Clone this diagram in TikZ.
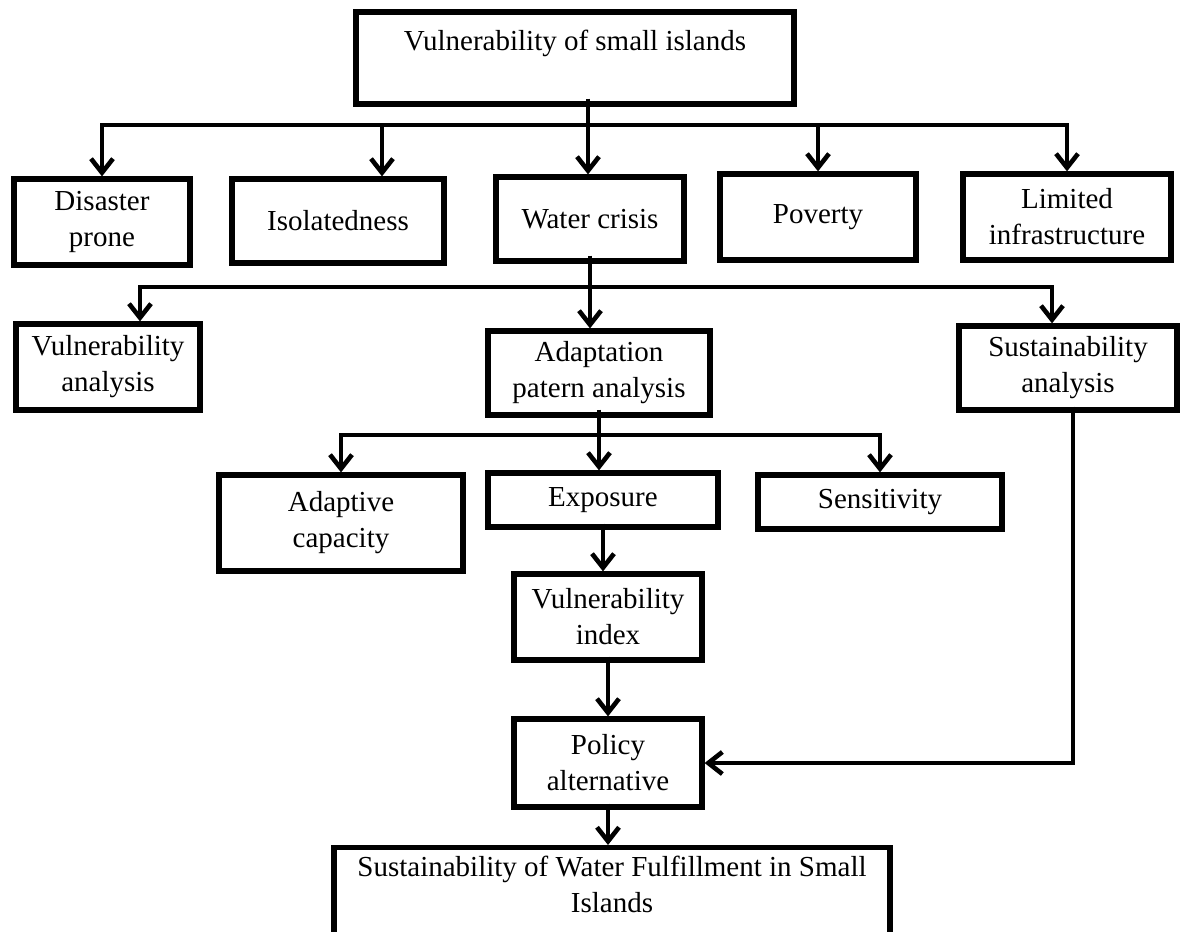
\documentclass[tikz,border=0pt]{standalone}
\usepackage{fontspec}
\setmainfont{Liberation Serif}
\usetikzlibrary{arrows.meta, shadows}

\begin{document}
\begin{tikzpicture}[x=0.5pt, y=-0.5pt,
  every node/.style={font=\fontsize{14.5pt}{18pt}\selectfont},
  box/.style={draw, line width=2.6pt, fill=white, align=center, inner sep=2pt,
    drop shadow={shadow xshift=1pt, shadow yshift=-1pt, fill=black!22, opacity=1}},
  link/.style={line width=2.3pt},
  flow/.style={link, -{Straight Barb[length=7pt, width=11pt]}}]
  \useasboundingbox (0,0) rectangle (1182,931);

  % Top box
  \node[box, minimum width=219pt, minimum height=46pt] (top) at (575,58)
    {Vulnerability of small islands\\~};

  % First row: aspects of vulnerability
  \node[box, minimum width=88pt, minimum height=43pt] (disaster) at (102,222) {Disaster\\prone};
  \node[box, minimum width=106pt, minimum height=42pt] (isol) at (338,221) {Isolatedness};
  \node[box, minimum width=94pt, minimum height=42pt] (water) at (590,219) {Water crisis};
  \node[box, minimum width=98pt, minimum height=43pt] (poverty) at (818,217) {Poverty};
  \node[box, minimum width=104pt, minimum height=43pt] (limited) at (1067,217) {Limited\\infrastructure};

  % Second row: analyses
  \node[box, minimum width=92pt, minimum height=43pt] (vulnA) at (108,367) {Vulnerability\\analysis};
  \node[box, minimum width=111pt, minimum height=42pt] (adapt) at (599,373) {Adaptation\\patern analysis};
  \node[box, minimum width=109pt, minimum height=42pt] (sustA) at (1068,368) {Sustainability\\analysis};

  % Third row: components
  \node[box, minimum width=122pt, minimum height=48pt] (adcap) at (341,523) {Adaptive\\capacity};
  \node[box, minimum width=115pt, minimum height=27pt] (expo) at (603,500) {Exposure};
  \node[box, minimum width=122pt, minimum height=27pt] (sens) at (880,502) {Sensitivity};

  % Index, policy and goal
  \node[box, minimum width=94pt, minimum height=43pt] (vindex) at (608,617) {Vulnerability\\index};
  \node[box, minimum width=94pt, minimum height=44pt] (policy) at (608,763) {Policy\\alternative};
  \node[box, anchor=north, minimum width=278pt, inner sep=4pt] (goal) at (612,845)
    {Sustainability of Water Fulfillment in Small\\Islands\\~\\~};

  % Branch points and line ends
  \coordinate (busA) at (588,125);
  \coordinate (busB) at (590,287);
  \coordinate (busC) at (599,435);
  \coordinate (topout) at ([yshift=4pt]top.south);
  \coordinate (waterout) at ([yshift=4pt]water.south);
  \coordinate (adaptout) at ([yshift=4pt]adapt.south);
  \coordinate (isolin) at ([xshift=22pt]isol.north);
  \coordinate (vulnin) at ([xshift=16pt]vulnA.north);
  \coordinate (sustin) at ([xshift=-8pt]sustA.north);
  \coordinate (sustout) at ([xshift=2.5pt,yshift=3pt]sustA.south);

  % Connectors, row one
  \draw[flow] (busA) -| (disaster.north);
  \draw[flow] (busA) -| (limited.north);
  \draw[flow] (busA -| isolin) -- (isolin);
  \draw[flow] (busA -| poverty.north) -- (poverty.north);
  \draw[flow] (busA |- topout) -- (busA |- water.north);

  % Connectors, row two
  \draw[flow] (waterout) -- (waterout |- adapt.north);
  \draw[flow] (busB) -| (vulnin);
  \draw[flow] (busB) -| (sustin);

  % Connectors, row three
  \draw[flow] (adaptout) -- (adaptout |- expo.north);
  \draw[flow] (busC) -| (adcap.north);
  \draw[flow] (busC) -| (sens.north);

  % Down to the goal
  \draw[flow] ([yshift=3pt]expo.south) -- (expo.south |- vindex.north);
  \draw[flow] ([yshift=3pt]vindex.south) -- (policy.north);
  \draw[flow] ([yshift=3pt]policy.south) -- (policy.south |- goal.north);
  \draw[flow] (sustout) |- (policy.east);
\end{tikzpicture}
\end{document}
